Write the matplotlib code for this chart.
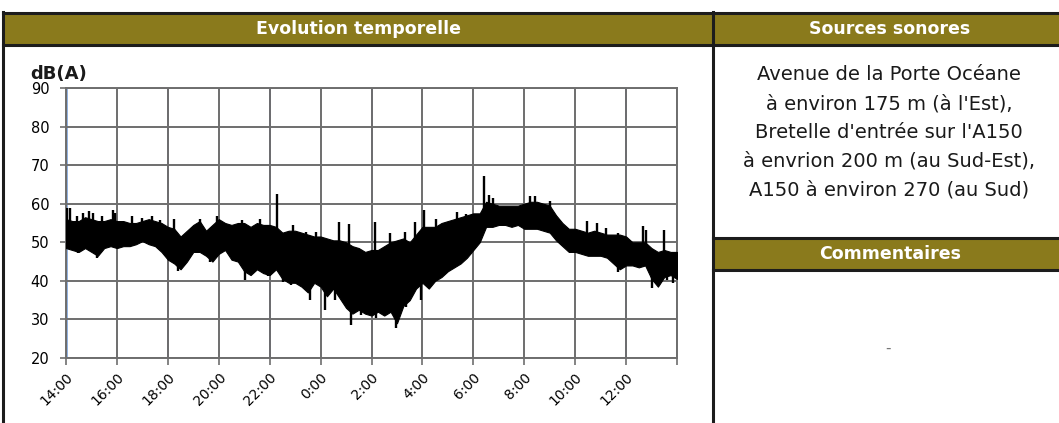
import matplotlib.pyplot as plt
import numpy as np
from matplotlib.lines import Line2D
from matplotlib.patches import Rectangle

W, H = 1059, 423

# sound level envelope, one reading every 15 min starting at 14:00 (hours since 14:00)
time_h = np.arange(97) * 0.25
upper_db = [
    56, 55.5, 55.5, 56.5, 56, 55.5, 55.5, 56, 55.5, 55.5, 55, 55, 55.5, 56, 55.5, 55,
    54, 53.5, 51.5, 53, 54.5, 55.5, 53, 54.5, 56, 55, 54.5, 55, 55, 54, 55, 54.5,
    54.5, 54, 52.5, 53, 53, 52.5, 52, 51.5, 51.5, 51, 50.5, 50.5, 50, 49, 48.5, 47.5,
    48, 48, 49, 50, 50.5, 51, 50, 52, 54, 54, 54, 55, 55.5, 56, 56.5, 57,
    57.5, 57.5, 60.5, 60, 59.5, 59.5, 59.5, 59.5, 60, 60.5, 60.5, 60, 59.5, 57, 55, 53.5,
    53.5, 53, 52.5, 53, 52.5, 52, 52, 52, 51.5, 50, 50, 50, 48.5, 47.5, 48, 47.5,
    47.5,
]
lower_db = [
    48.5, 48, 47.5, 48.5, 47.5, 46.5, 48.5, 49, 48.5, 49, 49, 49.5, 50.3, 49.5, 49, 47.5,
    45.5, 44.5, 43, 45, 47.5, 47.5, 46.5, 45, 47, 48, 45.5, 45, 42.5, 41.5, 43, 42,
    41.5, 43, 40.5, 39.5, 39.5, 38.5, 37, 39.5, 38.5, 36, 38, 35.5, 33, 31.5, 32.5, 31.5,
    31, 32, 31, 32, 29, 33.5, 35, 38, 39.5, 38, 40, 41, 42.5, 43.5, 44.5, 46,
    48, 50, 54, 54, 54.5, 54.5, 54, 54.5, 53.5, 53.5, 53.5, 53, 52.5, 50.5, 49, 47.5,
    47.5, 47, 46.5, 46.5, 46.5, 46, 44.5, 43, 44, 44, 43.5, 44, 40.5, 38.5, 41, 41.5,
    40.5,
]

# isolated peaks and dips (hours since 14:00, dB)
peak_time = [0.05, 0.16, 0.42, 0.68, 0.92, 1.05, 1.4, 1.83, 1.92, 2.58, 2.97, 3.36,
             3.7, 4.25, 5.26, 5.92, 6.9, 7.62, 8.3, 8.92, 9.44, 9.83, 10.72, 11.1,
             12.12, 12.71, 13.3, 13.7, 14.05, 14.54, 15.07, 15.37, 15.72, 16.42,
             16.63, 16.79, 18.22, 18.42, 19.01, 20.45, 20.84, 21.23, 21.69, 22.67,
             22.8, 23.5]
peak_db = [59, 58.9, 56.9, 57.6, 58, 57.7, 56.7, 58.4, 57.6, 56.9, 56.3, 56.9,
           55.9, 56, 56, 56.7, 55.7, 56, 62.5, 54.4, 52.7, 52.7, 55.3, 54.7,
           55.3, 52.4, 52.7, 55.3, 58.3, 56.1, 55.3, 57.8, 57.4, 67.1,
           62.3, 61.5, 61.9, 61.9, 60.6, 55.4, 55, 53.7, 52.4, 54.1,
           53.2, 53.2]
dip_time = [0.48, 1.2, 4.4, 5.65, 7.03, 7.62, 7.95, 8.52, 8.85, 9.57, 10.16, 10.55,
            11.2, 11.6, 12.19, 12.95, 13.37, 13.95, 21.69, 23.0, 23.6, 23.85]
dip_db = [47.2, 46, 42.5, 45, 40.3, 42.5, 41.2, 39.7, 38.9, 35, 32.4, 35,
          28.5, 31.1, 30.3, 27.7, 33.3, 35, 42.4, 38.1, 40.3, 39.4]

tick_hours = [0, 2, 4, 6, 8, 10, 12, 14, 16, 18, 20, 22, 24]
tick_labels = ["14:00", "16:00", "18:00", "20:00", "22:00", "0:00", "2:00",
               "4:00", "6:00", "8:00", "10:00", "12:00", ""]
y_ticks = [20, 30, 40, 50, 60, 70, 80, 90]

sources = [
    "Avenue de la Porte Océane",
    "à environ 175 m (à l'Est),",
    "Bretelle d'entrée sur l'A150",
    "à envrion 200 m (au Sud-Est),",
    "A150 à environ 270 (au Sud)",
]

HEADER = "#8a7a1c"
BORDER = "#1c1c1c"
GRID = "#6e6e6e"

plt.rcParams["font.family"] = ["DejaVu Sans"]


def fx(x):
    return x / W


def fy(y):
    return 1 - y / H


fig = plt.figure(figsize=(W / 100, H / 100), dpi=100)

# table frame and header bands
for x0, x1, y0, y1 in [(3, 713, 13, 45), (713, W, 13, 45), (713, W, 238, 270)]:
    fig.add_artist(Rectangle((fx(x0), fy(y1)), fx(x1) - fx(x0), fy(y0) - fy(y1),
                             transform=fig.transFigure, color=HEADER, lw=0))
for y in [13, 45]:
    fig.add_artist(Line2D([fx(3), 1], [fy(y), fy(y)], color=BORDER, lw=2.2))
for y in [238, 270]:
    fig.add_artist(Line2D([fx(713), 1], [fy(y), fy(y)], color=BORDER, lw=2.2))
fig.add_artist(Line2D([fx(3), fx(3)], [fy(12), 0], color=BORDER, lw=2.2))
fig.add_artist(Line2D([fx(713), fx(713)], [fy(12), 0], color=BORDER, lw=2.2))

fig.text(fx(358), fy(29), "Evolution temporelle", color="white", fontsize=12.5,
         fontweight="bold", ha="center", va="center")
fig.text(fx(890), fy(29), "Sources sonores", color="white", fontsize=12.5,
         fontweight="bold", ha="center", va="center")
fig.text(fx(890), fy(254), "Commentaires", color="white", fontsize=12.5,
         fontweight="bold", ha="center", va="center")
for i, line in enumerate(sources):
    fig.text(fx(889), fy(75 + i * 28.8), line, color="#1a1a1a", fontsize=14,
             ha="center", va="center")
fig.text(fx(888), fy(348), "-", color="#777777", fontsize=11, ha="center", va="center")

fig.text(fx(30), fy(74), "dB(A)", fontsize=13, fontweight="bold", ha="left",
         va="center", color="#1a1a1a")

# chart
ax = fig.add_axes([fx(66), fy(358), fx(677) - fx(66), fy(88) - fy(358)])
ax.set_xlim(0, 24)
ax.set_ylim(20, 90)
ax.set_xticks(tick_hours)
ax.set_xticklabels(tick_labels, rotation=45, ha="right", rotation_mode="anchor",
                   fontsize=10)
ax.set_yticks(y_ticks)
ax.tick_params(axis="y", labelsize=10.5, length=4, color=GRID, width=1.2, pad=8)
ax.tick_params(axis="x", length=5, color=GRID, width=1.2, pad=4)
ax.grid(True, color=GRID, lw=1.4, zorder=1)
for spine in ax.spines.values():
    spine.set_color(GRID)
    spine.set_linewidth(1.4)

# scan tints on a few vertical grid lines
for h, c in [(0.05, "#8fb0e0"), (4, "#6a4aa8"), (8, "#4f5fc4"), (12, "#6f7fc0"),
             (22, "#5b7fd0")]:
    ax.axvline(h, color=c, lw=1.4, zorder=1.5)

band_mid = (np.array(upper_db) + np.array(lower_db)) / 2
ax.fill_between(time_h, lower_db, upper_db, color="black", lw=0.8,
                edgecolor="black", zorder=3)
ax.vlines(peak_time, np.interp(peak_time, time_h, band_mid), peak_db,
          color="black", lw=1.7, zorder=3)
ax.vlines(dip_time, dip_db, np.interp(dip_time, time_h, band_mid),
          color="black", lw=1.7, zorder=3)

fig.savefig("out.png", dpi=100)
